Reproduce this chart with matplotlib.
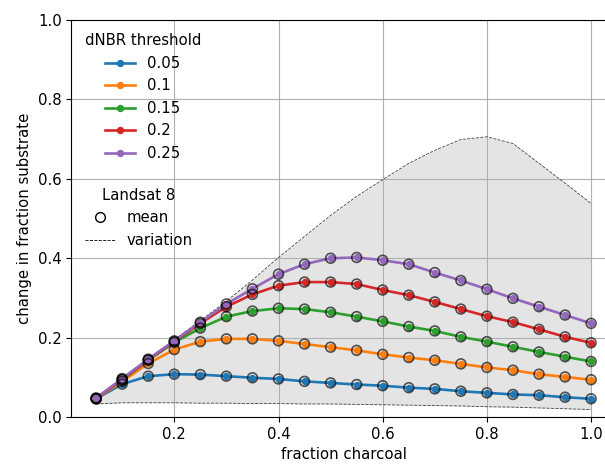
import matplotlib

matplotlib.use("Agg")
import matplotlib.pyplot as plt  # noqa: E402
from matplotlib.lines import Line2D  # noqa: E402

# fraction charcoal, 0.05 .. 1.0
frac_charcoal = [0.05, 0.10, 0.15, 0.20, 0.25, 0.30, 0.35, 0.40, 0.45, 0.50,
                 0.55, 0.60, 0.65, 0.70, 0.75, 0.80, 0.85, 0.90, 0.95, 1.00]

thresholds = ["0.05", "0.1", "0.15", "0.2", "0.25"]

# mean change in fraction substrate per dNBR threshold (Landsat 8)
mean_005 = [0.046, 0.083, 0.103, 0.108, 0.107, 0.103, 0.099, 0.096, 0.090, 0.086,
            0.082, 0.079, 0.074, 0.071, 0.065, 0.061, 0.057, 0.055, 0.050, 0.046]
mean_010 = [0.046, 0.090, 0.135, 0.170, 0.190, 0.197, 0.197, 0.192, 0.184, 0.176,
            0.168, 0.158, 0.150, 0.143, 0.134, 0.125, 0.118, 0.108, 0.101, 0.094]
mean_015 = [0.047, 0.094, 0.143, 0.188, 0.224, 0.253, 0.267, 0.274, 0.272, 0.264,
            0.253, 0.241, 0.228, 0.217, 0.202, 0.190, 0.177, 0.164, 0.152, 0.140]
mean_020 = [0.047, 0.095, 0.144, 0.190, 0.236, 0.278, 0.309, 0.331, 0.340, 0.340,
            0.335, 0.320, 0.307, 0.290, 0.272, 0.254, 0.239, 0.221, 0.202, 0.187]
mean_025 = [0.048, 0.097, 0.146, 0.192, 0.239, 0.285, 0.323, 0.360, 0.385, 0.400,
            0.402, 0.395, 0.385, 0.364, 0.344, 0.322, 0.299, 0.278, 0.257, 0.236]

# variation envelope
var_low = [0.033, 0.036, 0.036, 0.036, 0.035, 0.035, 0.034, 0.034, 0.033, 0.033,
           0.032, 0.031, 0.030, 0.029, 0.028, 0.026, 0.025, 0.023, 0.021, 0.019]
var_high = [0.048, 0.098, 0.147, 0.195, 0.243, 0.292, 0.345, 0.402, 0.455, 0.508,
            0.556, 0.598, 0.639, 0.672, 0.699, 0.706, 0.689, 0.639, 0.589, 0.538]

series = [mean_005, mean_010, mean_015, mean_020, mean_025]
colors = ["#1f77b4", "#ff7f0e", "#2ca02c", "#d62728", "#9467bd"]


def main() -> None:
    plt.rcParams["font.size"] = 10.75
    fig = plt.figure(figsize=(6.05, 4.66), dpi=100)
    # right side of the original figure is cropped, so the axes runs off the edge
    ax = fig.add_axes([0.118, 0.105, 0.90, 0.852])

    ax.fill_between(frac_charcoal, var_low, var_high, color="#e4e4e4", lw=0)
    ax.plot(frac_charcoal, var_low, ls="--", color="#444444", lw=0.6)
    ax.plot(frac_charcoal, var_high, ls="--", color="#444444", lw=0.6)

    handles = []
    for vals, lab, c in zip(series, thresholds, colors):
        (h,) = ax.plot(frac_charcoal, vals, marker="o", ms=4.3, lw=1.9, color=c, label=lab)
        handles.append(h)
        ax.scatter(frac_charcoal, vals, s=50, facecolors="none", edgecolors="k",
                   linewidths=1.2, alpha=0.65, zorder=3)

    ax.set_xlim(0.0025, 1.0475)
    ax.set_ylim(0, 1)
    ax.set_xticks([0.2, 0.4, 0.6, 0.8, 1.0])
    ax.set_xlabel("fraction charcoal")
    ax.set_ylabel("change in fraction substrate")
    ax.grid(True)

    leg1 = ax.legend(handles=handles, title="dNBR threshold", loc="upper left",
                     frameon=False)
    ax.add_artist(leg1)
    extra = [
        Line2D([], [], ls="none", marker="o", mfc="none", mec="k", ms=7),
        Line2D([], [], ls="--", color="k", lw=0.6),
    ]
    ax.legend(handles=extra, labels=["mean", "variation"], title="Landsat 8",
              loc="upper left", bbox_to_anchor=(0.0, 0.611), frameon=False)

    fig.savefig("out.png", dpi=100)


if __name__ == "__main__":
    main()
